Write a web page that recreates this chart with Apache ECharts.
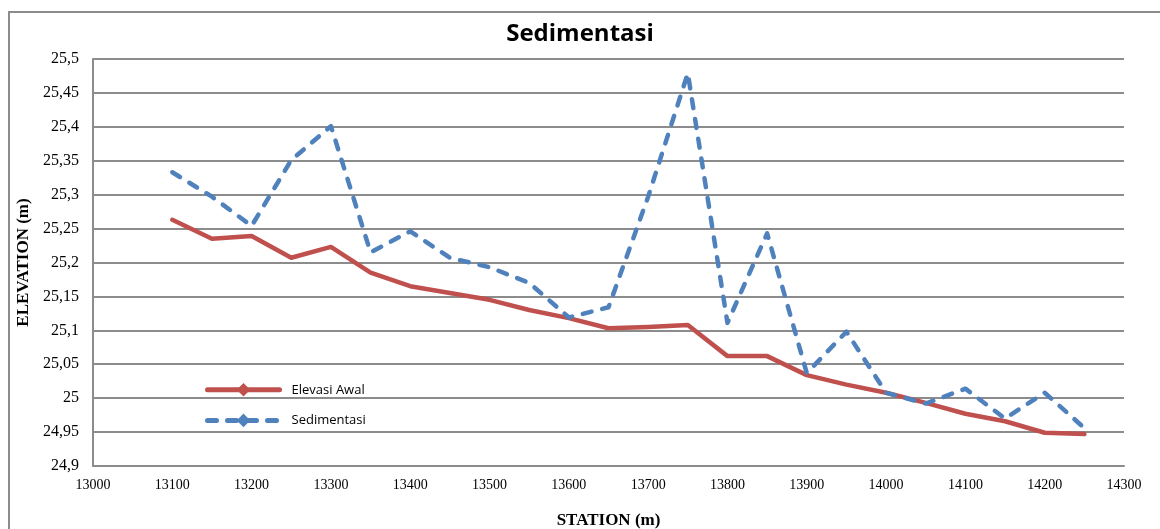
<!DOCTYPE html>
<html>
<head>
<meta charset="utf-8">
<script src="https://cdn.jsdelivr.net/npm/echarts@6/dist/echarts.min.js"></script>
<style>html,body{margin:0;padding:0;background:#fff;}#c{width:1160px;height:529px;}</style>
</head>
<body>
<div id="c"></div>
<script>
const stations = [13100,13150,13200,13250,13300,13350,13400,13450,13500,13550,13600,13650,13700,13750,13800,13850,13900,13950,14000,14050,14100,14150,14200,14250];
const elevasiAwal = [25.263,25.235,25.239,25.207,25.223,25.185,25.165,25.155,25.145,25.130,25.118,25.103,25.105,25.108,25.062,25.062,25.034,25.020,25.008,24.993,24.977,24.966,24.949,24.947];
const sedimentasi = [25.333,25.297,25.254,25.351,25.401,25.215,25.246,25.207,25.193,25.170,25.119,25.134,25.297,25.479,25.111,25.243,25.037,25.098,25.008,24.992,25.014,24.970,25.008,24.956];
const seriesNames = ['Elevasi Awal','Sedimentasi'];
const titleText = 'Sedimentasi';
const xName = 'STATION (m)';
const yName = 'ELEVATION (m)';

const chart = echarts.init(document.getElementById('c'), null, {renderer:'canvas'});
const pair = (xs, ys) => xs.map((x,i)=>[x, ys[i]]);
chart.setOption({
  animation:false,
  backgroundColor:'#fff',
  graphic:[{type:'rect', shape:{x:9,y:12,width:1200,height:600}, style:{fill:'none',stroke:'#8c8c8c',lineWidth:2}, z:-1}],
  title:{text:titleText, left:'center', top:17, textStyle:{fontFamily:'Open Sans', fontWeight:'bold', fontSize:24, color:'#000'}},
  grid:{left:93, right:36, top:59, bottom:63, containLabel:false, outerBoundsMode:'none'},
  legend:{
    orient:'vertical', left:200, top:378, itemWidth:72, itemHeight:17, itemGap:17,
    lineStyle:{width:5},
    textStyle:{fontFamily:'Open Sans', fontSize:13, color:'#000', padding:[0,0,0,7]},
    data:seriesNames
  },
  xAxis:{
    type:'value', min:13000, max:14300, interval:100,
    name:xName, nameLocation:'middle', nameGap:46,
    nameTextStyle:{fontFamily:'Liberation Serif', fontWeight:'bold', fontSize:17, color:'#000'},
    axisLine:{show:true, lineStyle:{color:'#8c8c8c', width:2}},
    axisTick:{show:false},
    splitLine:{show:false},
    axisLabel:{fontFamily:'Liberation Serif', fontSize:14, color:'#000', margin:12, formatter:v=>String(v)}
  },
  yAxis:{
    type:'value', min:24.9, max:25.5, interval:0.05,
    name:yName, nameLocation:'middle', nameGap:58, nameRotate:90,
    nameTextStyle:{fontFamily:'Liberation Serif', fontWeight:'bold', fontSize:17, color:'#000'},
    axisLine:{show:true, lineStyle:{color:'#8c8c8c', width:2}},
    axisTick:{show:false},
    splitLine:{show:true, lineStyle:{color:'#8c8c8c', width:2}},
    axisLabel:{fontFamily:'Liberation Serif', fontSize:16, color:'#000', margin:14,
      formatter:v=>String(Math.round(v*100)/100).replace('.',',')}
  },
  series:[
    {name:seriesNames[0], type:'line', data:pair(stations, elevasiAwal), showSymbol:false, symbol:'diamond', symbolSize:12,
     itemStyle:{color:'#C0504D'}, lineStyle:{color:'#C0504D', width:4.5, cap:'round', join:'round'}},
    {name:seriesNames[1], type:'line', data:pair(stations, sedimentasi), showSymbol:false, symbol:'diamond', symbolSize:12,
     itemStyle:{color:'#4F81BD'}, lineStyle:{color:'#4F81BD', width:4.5, type:[9,11], cap:'round', join:'round'}}
  ]
});
</script>
</body>
</html>
